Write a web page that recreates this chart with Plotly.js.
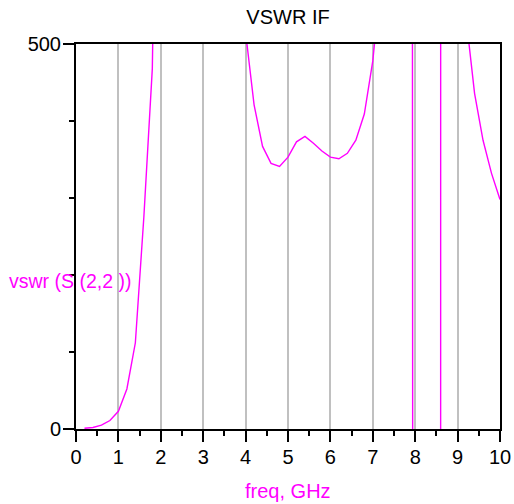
<!DOCTYPE html>
<html>
<head>
<meta charset="utf-8">
<script src="https://cdn.plot.ly/plotly-3.0.1.min.js"></script>
<style>html,body{margin:0;padding:0;background:#fff;}#chart{width:514px;height:504px;}</style>
</head>
<body>
<div id="chart"></div>
<script>
// Frequency points (GHz)
const freq = [0.2,0.4,0.6,0.8,1.0,1.2,1.4,1.6,1.8,2.0,
              2.2,2.4,2.6,2.8,3.0,3.2,3.4,3.6,3.8,4.0,
              4.2,4.4,4.6,4.8,5.0,5.2,5.4,5.6,5.8,6.0,
              6.2,6.4,6.6,6.8,7.0,7.2,7.4,7.6,7.8,8.0,
              8.2,8.4,8.6,8.8,9.0,9.2,9.4,9.6,9.8,10.0];
// vswr(S(2,2)) values (estimated; off-scale values are beyond the 0..500 view)
const vswr = [1,2,5,11,23,52,112,275,468,820,
              1400,2600,5200,9800,12000,8500,4200,1900,900,515,
              421,367,345,341,353,373,380,371,361,353,
              351,358,375,409,478,590,950,2100,14000,-6000,
              -1800,-900,-200,200000,2600,534,436,375,332,298];
const xTickVals = [0,1,2,3,4,5,6,7,8,9,10];
const yTickVals = [0,500];
const chartTitle = "VSWR IF";
const xLabel = "freq, GHz";
const yLabel = "vswr (S (2,2 ))";

const FONT = "Liberation Sans, Arial, sans-serif";
const MAG = "#ff00ff";

const trace = {
  x: freq, y: vswr, type: "scatter", mode: "lines",
  line: {color: MAG, width: 1.4},
  hoverinfo: "skip", showlegend: false
};

const layout = {
  width: 514, height: 504,
  margin: {l: 76, r: 14, t: 44, b: 75},
  paper_bgcolor: "#fff", plot_bgcolor: "#fff",
  font: {family: FONT, size: 20, color: "#000"},
  title: {text: chartTitle, font: {family: FONT, size: 20, color: "#000"},
          xref: "paper", x: 0.5, xanchor: "center",
          yref: "container", y: 1 - 17/504, yanchor: "middle"},
  xaxis: {
    range: [0, 10], tickvals: xTickVals, ticktext: xTickVals.map(String),
    showgrid: true, gridcolor: "#c0c0c0", gridwidth: 2,
    zeroline: false,
    showline: true, mirror: true, linecolor: "#000", linewidth: 2,
    ticks: "outside", ticklen: 11, tickwidth: 2, tickcolor: "#000",
    minor: {dtick: 0.5, ticks: "outside", ticklen: 5, tickwidth: 2, tickcolor: "#000", showgrid: false},
    tickfont: {family: FONT, size: 20, color: "#000"},
    ticklabelstandoff: -2,
    fixedrange: true
  },
  yaxis: {
    range: [0, 500], tickvals: yTickVals, ticktext: yTickVals.map(String),
    showgrid: false, zeroline: false,
    showline: true, mirror: true, linecolor: "#000", linewidth: 2,
    ticks: "outside", ticklen: 11, tickwidth: 2, tickcolor: "#000",
    minor: {dtick: 100, ticks: "outside", ticklen: 5, tickwidth: 2, tickcolor: "#000", showgrid: false},
    tickfont: {family: FONT, size: 20, color: "#000"},
    ticklabelstandoff: -2,
    fixedrange: true
  },
  annotations: [
    {text: yLabel, xref: "paper", yref: "paper", x: (7 - 76) / 424, y: (429 - 281) / 385,
     xanchor: "left", yanchor: "middle", showarrow: false,
     font: {family: FONT, size: 19.5, color: MAG}},
    {text: xLabel, xref: "paper", yref: "paper", x: 0.5, y: (429 - 491) / 385,
     xanchor: "center", yanchor: "middle", showarrow: false,
     font: {family: FONT, size: 20, color: MAG}}
  ]
};

Plotly.newPlot("chart", [trace], layout, {displayModeBar: false, staticPlot: true});
</script>
</body>
</html>
